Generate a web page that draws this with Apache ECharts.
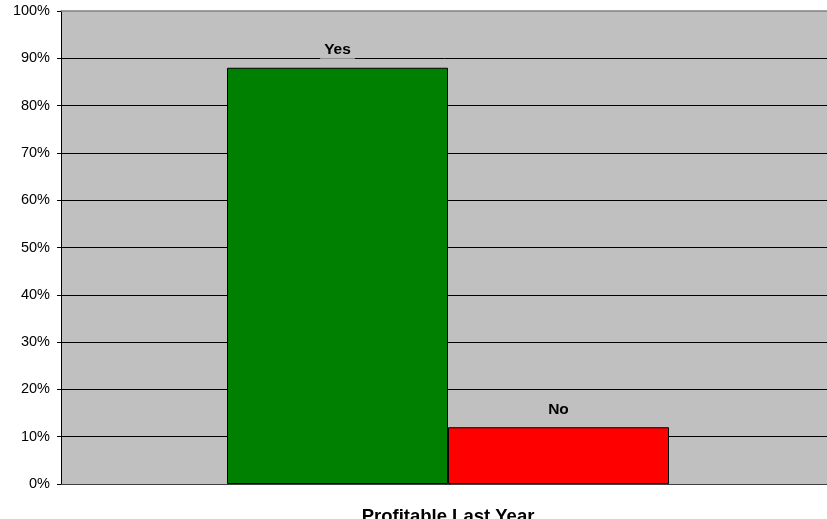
<!DOCTYPE html>
<html><head><meta charset="utf-8">
<script src="https://cdn.jsdelivr.net/npm/echarts@6/dist/echarts.min.js"></script>
<style>html,body{margin:0;padding:0;background:#fff}#c{width:827px;height:519px}</style>
</head><body><div id="c"></div>
<script>
var categories = ['Profitable Last Year'];
var seriesNames = ['Yes', 'No'];
var yesValues = [88];
var noValues = [12];
var seriesColors = ['#008000', '#FF0000'];

var FONT = 'Liberation Sans, Arial, sans-serif';
var chart = echarts.init(document.getElementById('c'), null, {renderer: 'canvas'});
function mk(name, data, color) {
  return {
    name: name, type: 'bar', data: data, barWidth: 221, barGap: '0%', xAxisIndex: 0,
    itemStyle: {color: color, borderColor: '#000', borderWidth: 1},
    label: {show: true, position: 'top', distance: 9, formatter: name,
      fontFamily: FONT, fontWeight: 'bold', fontSize: 15.5,
      color: '#000', backgroundColor: '#C0C0C0', padding: [1, 4]}
  };
}
chart.setOption({
  animation: false,
  grid: {left: 61, top: 11, right: -8, bottom: 35, show: true, backgroundColor: '#C0C0C0',
    borderWidth: 0, containLabel: false, outerBoundsMode: 'none'},
  xAxis: [{type: 'category', data: categories,
    axisLine: {lineStyle: {color: '#404040'}}, axisTick: {show: false},
    axisLabel: {fontFamily: FONT, fontWeight: 'bold', fontSize: 18.5, color: '#000', margin: 23}},
    {type: 'category', data: categories, position: 'top',
    axisLine: {lineStyle: {color: '#808080', width: 1.5}}, axisTick: {show: false}, axisLabel: {show: false}}],
  yAxis: {type: 'value', min: 0, max: 100, interval: 10,
    axisLine: {show: true, lineStyle: {color: '#000'}},
    axisTick: {show: true, length: 4, lineStyle: {color: '#000'}},
    splitLine: {showMaxLine: false, lineStyle: {color: '#000', width: 1}},
    axisLabel: {formatter: '{value}%', fontFamily: FONT, fontSize: 14.5, color: '#000', margin: 11}},
  series: [mk(seriesNames[0], yesValues, seriesColors[0]), mk(seriesNames[1], noValues, seriesColors[1])]
});
</script></body></html>
